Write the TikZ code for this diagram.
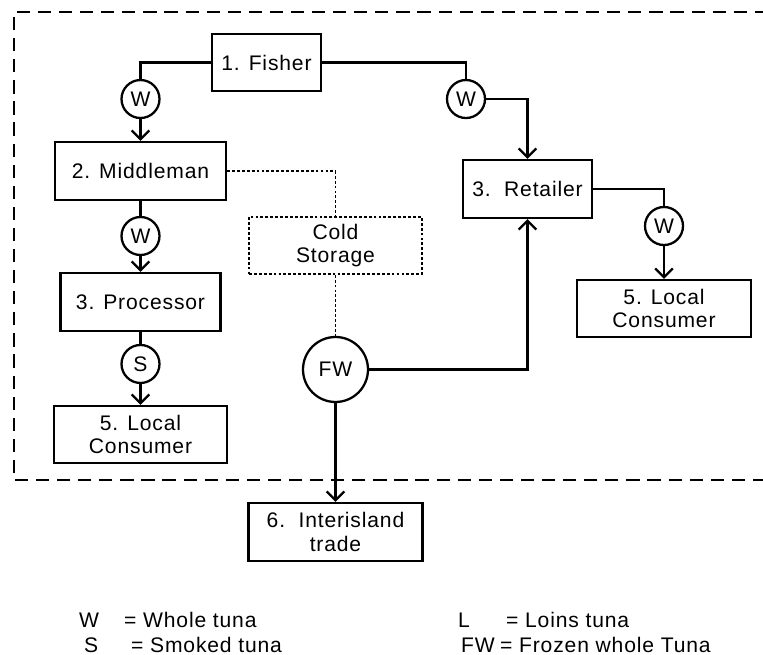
\documentclass[tikz,border=0pt]{standalone}
\usepackage{fontspec}
\setmainfont{Liberation Sans}[LetterSpace=4]
\usetikzlibrary{positioning, arrows.meta}
\tikzset{
>={Straight Barb[length=5pt, width=10pt]}, % open arrow heads
every node/.style={font=\fontsize{12pt}{13.6pt}\selectfont},
actor/.style={draw, rectangle, align=center, inner sep=0pt}, % one member of the chain
tag/.style={draw, circle, inner sep=0pt, minimum size=0.76cm}, % product carried by a flow
store/.style={actor, dash pattern=on 1.6pt off 1.2pt, line width=0.9pt},
dotlink/.style={dash pattern=on 1.6pt off 1.2pt, line width=0.9pt},
key/.style={anchor=base west, inner sep=0pt}, % legend entries
}

\begin{document}
\begin{tikzpicture}[x=0.02cm, y=-0.02cm, line width=1.3pt]
                \useasboundingbox (0,0) rectangle (763,654);
                % island boundary
                \draw[dash pattern=on 7.5pt off 4.5pt] (766,480) -| (14,12) -- (766,12);

                \node[actor, minimum width=2.18cm, minimum height=1.14cm] (fisher) at (266.5,62.5) {1. Fisher};
                \node[actor, minimum width=3.42cm, minimum height=1.16cm] (middleman) at (140.5,171) {2. Middleman};
                \node[tag, node distance=1.44cm, above of=middleman] (w1) {W};
                \node[tag, node distance=1.3cm, below of=middleman] (w2) {W};
                \node[actor, node distance=1.32cm, below of=w2, minimum width=3.2cm, minimum height=1.16cm] (processor) {3. Processor};
                \node[tag, node distance=1.24cm, below of=processor] (s1) {S};
                \node[actor, node distance=1.41cm, below of=s1, minimum width=3.46cm, minimum height=1.14cm] (localA) {5. Local\\Consumer};

                \node[tag] (w3) at (466,99) {W};
                \node[actor, minimum width=2.58cm, minimum height=1.16cm] (retailer) at (527.5,189) {3.\ \ Retailer};
                \node[tag] (w4) at (664,226) {W};
                \node[actor, node distance=1.65cm, below of=w4, minimum width=3.48cm, minimum height=1.14cm] (localB) {5. Local\\Consumer};

                \node[store, minimum width=3.46cm, minimum height=1.14cm] (cold) at (335.5,245.5) {Cold\\Storage};
                \node[tag, node distance=2.48cm, below of=cold, minimum size=1.3cm] (fw) {FW};
                \node[actor, node distance=3.25cm, below of=fw, minimum width=3.48cm, minimum height=1.16cm] (interisland) {6.\ \ Interisland\\trade};

                \draw (fisher.west) -| (w1.north);
                \draw[->] (w1) -- (middleman);
                \draw (middleman) -- (w2);
                \draw[->] (w2) -- (processor);
                \draw (processor) -- (s1);
                \draw[->] (s1) -- (localA);
                \draw (fisher.east) -| (w3.north);
                \draw[->] (w3.east) -| (retailer.north);
                \draw (retailer.east) -| (w4.north);
                \draw[->] (w4) -- (localB);
                \draw[dotlink] (middleman.east) -| (cold.north);
                \draw[dotlink] (cold) -- (fw);
                \draw[->] (fw.east) -| (retailer.south);
                \draw[->] (fw) -- (interisland);

                % legend
                \node[key] (wkey) at (78,627) {W};
                \node[key] (wtext) at (123,627) {= Whole tuna};
                \node[key] (skey) at (83,652) {S};
                \node[key] (stext) at (130,652) {= Smoked tuna};
                \node[key] (lkey) at (457,627) {L};
                \node[key] (ltext) at (505,627) {= Loins tuna};
                \node[key] (fwkey) at (460,652) {FW};
                \node[key] (fwtext) at (499,652) {= Frozen whole Tuna};
\end{tikzpicture}
\end{document}
